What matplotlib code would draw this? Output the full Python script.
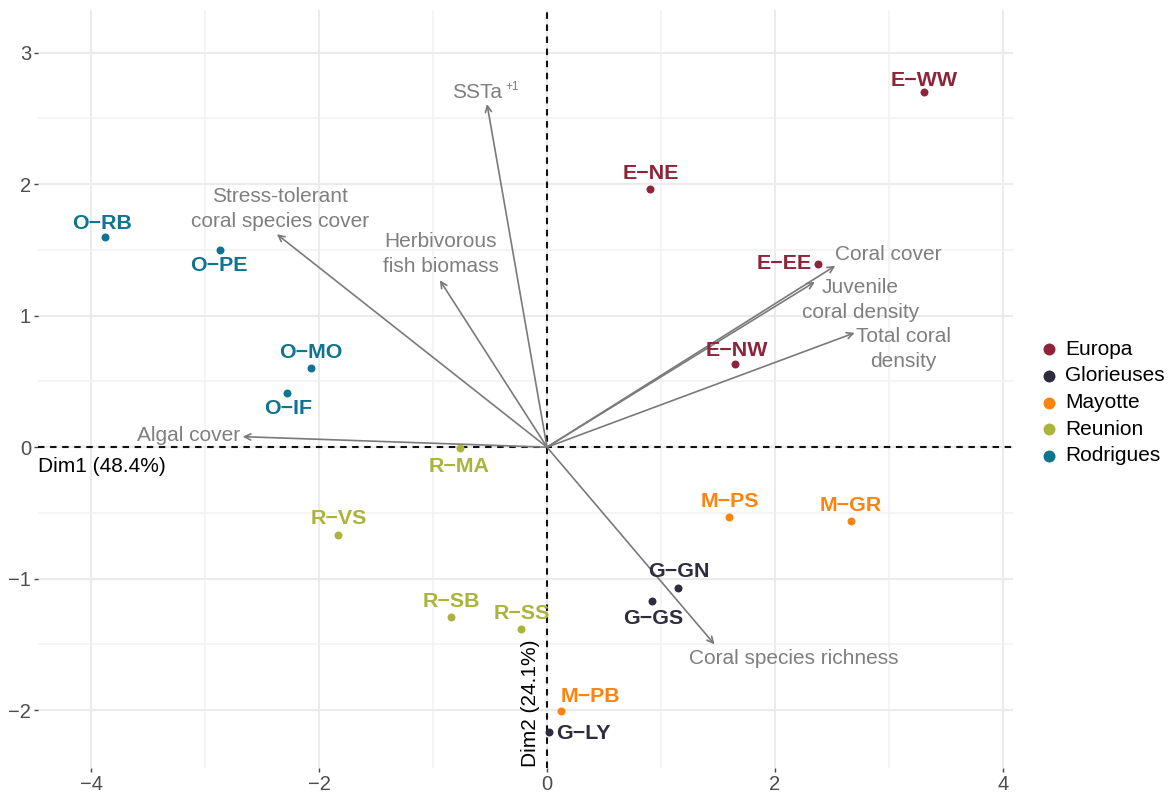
import matplotlib
matplotlib.use("Agg")
import matplotlib.pyplot as plt

plt.rcParams['font.family'] = ['Liberation Sans', 'DejaVu Sans']

site_names = ["E-WW","E-NE","E-EE","E-NW","G-GN","G-GS","G-LY","M-PS","M-GR","M-PB",
              "R-MA","R-VS","R-SB","R-SS","O-RB","O-PE","O-MO","O-IF"]
site_x = [3.31,0.90,2.38,1.65,1.15,0.92,0.02,1.60,2.67,0.12,-0.76,-1.83,-0.84,-0.23,-3.88,-2.87,-2.07,-2.28]
site_y = [2.70,1.96,1.39,0.63,-1.07,-1.17,-2.17,-0.53,-0.56,-2.01,-0.01,-0.67,-1.29,-1.38,1.60,1.50,0.60,0.41]
site_group = ["Europa"]*4 + ["Glorieuses"]*3 + ["Mayotte"]*3 + ["Reunion"]*4 + ["Rodrigues"]*4
label_x = [3.31,0.91,2.08,1.667,1.158,0.93,0.316,1.605,2.667,0.377,-0.772,-1.825,-0.842,-0.22,-3.904,-2.877,-2.07,-2.27]
label_y = [2.79,2.08,1.40,0.735,-0.945,-1.30,-2.178,-0.41,-0.44,-1.895,-0.147,-0.542,-1.174,-1.265,1.70,1.38,0.72,0.294]

groups = ["Europa","Glorieuses","Mayotte","Reunion","Rodrigues"]
group_colors = ["#8E2439","#2E2D40","#FB8411","#ABB43A","#0E7490"]

arrow_x = [-0.526,-2.37,-0.94,-2.67,2.53,2.35,2.70,1.47]
arrow_y = [2.61,1.62,1.27,0.08,1.38,1.257,0.87,-1.50]
var_names = ["SSTa","Stress-tolerant\ncoral species cover","Herbivorous\nfish biomass","Algal cover",
             "Coral cover","Juvenile\ncoral density","Total coral\ndensity","Coral species richness"]
var_lx = [-0.61,-2.34,-0.93,-3.14,2.99,2.75,3.13,2.167]
var_ly = [2.695,1.81,1.472,0.09,1.465,1.12,0.75,-1.608]

xticks = [-4,-2,0,2,4]
yticks = [-2,-1,0,1,2,3]
xtick_labels = ["\u22124","\u22122","0","2","4"]
ytick_labels = ["\u22122","\u22121","0","1","2","3"]

W, H = 1170, 797
fig = plt.figure(figsize=(W/100, H/100), dpi=100)
L, R, T, B = 38, 1013, 10, 768
ax = fig.add_axes([L/W, 1-B/H, (R-L)/W, (B-T)/H])
ax.set_xlim(-4.465, 4.088)
ax.set_ylim(-2.44, 3.325)
for s in ax.spines.values():
    s.set_visible(False)
ax.set_axisbelow(True)
ax.set_xticks(xticks)
ax.set_yticks(yticks)
ax.set_xticks([-3,-1,1,3], minor=True)
ax.set_yticks([-1.5,-0.5,0.5,1.5,2.5], minor=True)
ax.grid(True, which='major', color='#EBEBEB', lw=1.5)
ax.grid(True, which='minor', color='#F1F1F1', lw=1.1)
ax.tick_params(which='minor', length=0)
ax.tick_params(which='major', color='#444444', length=3, labelsize=14.5, labelcolor='#4D4D4D', width=1, pad=2)
ax.set_xticklabels(xtick_labels)
ax.set_yticklabels(ytick_labels)
ax.axhline(0, color='#111111', ls='--', lw=1.5, dashes=(3.1,2.7))
ax.axvline(0, color='#111111', ls='--', lw=1.5, dashes=(3.1,2.7))

for ax_, ay_ in zip(arrow_x, arrow_y):
    ax.annotate("", xy=(ax_, ay_), xytext=(0,0),
                arrowprops=dict(arrowstyle="->,head_length=0.45,head_width=0.22", color="#7A7A7A", lw=1.2,
                                shrinkA=0, shrinkB=0))
for n, lx, ly in zip(var_names, var_lx, var_ly):
    ax.text(lx, ly, n, color="#7F7F7F", fontsize=15, ha='center', va='center', linespacing=1.4)
ax.text(-0.365, 2.74, "+1", color="#7F7F7F", fontsize=8.5, ha='left', va='center')

color_of = dict(zip(groups, group_colors))
for n, x, y, g, lx, ly in zip(site_names, site_x, site_y, site_group, label_x, label_y):
    ax.scatter([x],[y], s=33, color=color_of[g], zorder=3, linewidths=0)
    ax.text(lx, ly, n.replace("-", "\u2212"), color=color_of[g], fontsize=15.4, fontweight='bold', ha='center', va='center', zorder=4)

ax.text(-4.465,-0.147,"Dim1 (48.4%)", fontsize=15, color='black', ha='left', va='center')
ax.text(-0.149,-1.945,"Dim2 (24.1%)", fontsize=15, color='black', rotation=90, ha='center', va='center')

for g, c in zip(groups, group_colors):
    ax.scatter([], [], s=74, color=c, label=g, linewidths=0)
fig.legend(*ax.get_legend_handles_labels(), loc='center left', bbox_to_anchor=(1038.6/W, 1-402.5/H), frameon=False,
           fontsize=15, labelspacing=0.37, handletextpad=0.27, handlelength=1, borderpad=0, borderaxespad=0)
fig.savefig("out.png", dpi=100)
